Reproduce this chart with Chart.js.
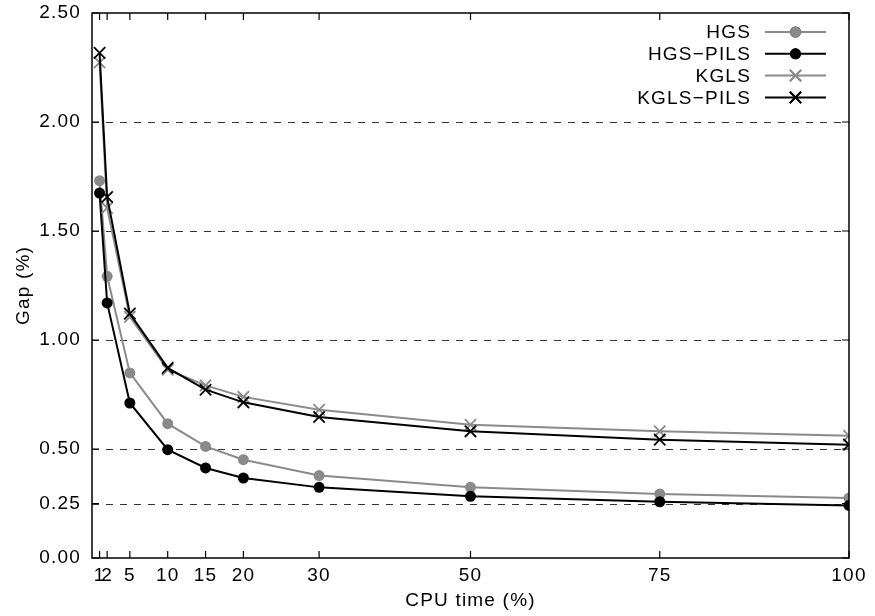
<!DOCTYPE html>
<html>
<head>
<meta charset="utf-8">
<title>Gap vs CPU time</title>
<script src="https://cdn.jsdelivr.net/npm/chart.js@4"></script>
<style>
  html, body { margin: 0; padding: 0; background: #fff; }
  #wrap { width: 875px; height: 616px; }
</style>
</head>
<body>
<div id="wrap"><canvas id="gapChart" width="875" height="616"></canvas></div>
<script>
// CPU time (%) at which each gap was measured
const cpuTime = [1, 2, 5, 10, 15, 20, 30, 50, 75, 100];
const yTickValues = [0, 0.25, 0.5, 1, 1.5, 2, 2.5];

// Gap (%) per method
const hgs      = [1.731, 1.292, 0.849, 0.616, 0.512, 0.451, 0.378, 0.324, 0.294, 0.275];
const hgsPils  = [1.674, 1.170, 0.711, 0.497, 0.413, 0.367, 0.324, 0.283, 0.258, 0.241];
const kgls     = [2.273, 1.606, 1.106, 0.864, 0.792, 0.739, 0.680, 0.611, 0.581, 0.561];
const kglsPils = [2.317, 1.656, 1.121, 0.872, 0.772, 0.714, 0.647, 0.581, 0.543, 0.520];

const labels = ['HGS', 'HGS\u2212PILS', 'KGLS', 'KGLS\u2212PILS'];
const GREY = '#8a8a8a';
const FONT = "'Liberation Sans', Arial, Helvetica, sans-serif";

Chart.defaults.font.family = FONT;
Chart.defaults.font.size = 19;
Chart.defaults.color = '#000';

function points(values) {
    return values.map((v, i) => ({ x: cpuTime[i], y: v }));
}

function series(label, values, color, style, order) {
    const cross = style === 'crossRot';
    return {
        label: label,
        data: points(values),
        borderColor: color,
        backgroundColor: color,
        borderWidth: 2,
        pointStyle: style,
        pointRadius: cross ? 8 : 5.5,
        pointBorderWidth: cross ? 1.8 : 0,
        pointBackgroundColor: color,
        pointBorderColor: color,
        tension: 0,
        order: order
    };
}

// letter spacing to get closer to the wide original lettering
function spacing(chart) {
    chart.ctx.letterSpacing = '1.2px';
}

// fixed plot box, no label overhang padding
function fixBox(size) {
    return scale => {
        if (scale.isHorizontal()) scale.height = size;
        else scale.width = size;
        scale.paddingTop = 0;
        scale.paddingBottom = 0;
        scale.paddingLeft = 0;
        scale.paddingRight = 0;
    };
}

const framePlugin = {
    id: 'frame',
    beforeLayout: spacing,
    beforeDraw: spacing,
    beforeDatasetsDraw(chart) {
        const { ctx, chartArea: a, scales: { y } } = chart;
        ctx.save();
        ctx.strokeStyle = '#333';
        ctx.lineWidth = 1;
        ctx.setLineDash([7, 7]);
        yTickValues.forEach(v => {
            if (v === 0 || v === 2.5) return;
            const py = Math.round(y.getPixelForValue(v)) + 0.5;
            ctx.beginPath();
            ctx.moveTo(a.left, py);
            ctx.lineTo(a.right, py);
            ctx.stroke();
        });
        ctx.restore();
    },
    afterDatasetsDraw(chart) {
        const { ctx, chartArea: a, scales: { x, y } } = chart;
        ctx.save();
        ctx.strokeStyle = '#000';
        ctx.lineWidth = 1.5;
        ctx.setLineDash([]);
        ctx.strokeRect(a.left, a.top, a.right - a.left, a.bottom - a.top);

        // inward tick marks, mirrored on top and right
        ctx.beginPath();
        cpuTime.forEach(v => {
            const px = x.getPixelForValue(v);
            ctx.moveTo(px, a.bottom);
            ctx.lineTo(px, a.bottom - 7);
            ctx.moveTo(px, a.top);
            ctx.lineTo(px, a.top + 7);
        });
        yTickValues.forEach(v => {
            const py = y.getPixelForValue(v);
            ctx.moveTo(a.left, py);
            ctx.lineTo(a.left + 7, py);
            ctx.moveTo(a.right, py);
            ctx.lineTo(a.right - 7, py);
        });
        ctx.lineWidth = 1.2;
        ctx.stroke();

        // legend, gnuplot style: text right aligned, sample line after it
        const textRight = 751, lineLeft = 765, lineRight = 826, rowTop = 32, rowStep = 21.8;
        chart.data.datasets.forEach((ds, i) => {
            const cy = rowTop + i * rowStep;
            ctx.font = '19px ' + FONT;
            ctx.fillStyle = '#000';
            ctx.textAlign = 'right';
            ctx.textBaseline = 'middle';
            ctx.fillText(ds.label, textRight, cy + 1);
            ctx.strokeStyle = ds.borderColor;
            ctx.lineWidth = 2;
            ctx.beginPath();
            ctx.moveTo(lineLeft, cy);
            ctx.lineTo(lineRight, cy);
            ctx.stroke();
            ctx.lineWidth = ds.pointBorderWidth;
            Chart.helpers.drawPoint(ctx, {
                pointStyle: ds.pointStyle,
                radius: ds.pointRadius,
                borderWidth: ds.pointBorderWidth,
                rotation: 0
            }, (lineLeft + lineRight) / 2, cy);
            ctx.fillStyle = ds.borderColor;
            if (ds.pointStyle === 'circle') ctx.fill();
            else ctx.stroke();
        });
        ctx.restore();
    }
};

const ctx = document.getElementById('gapChart').getContext('2d');
const chart = new Chart(ctx, {
    type: 'line',
    data: {
        datasets: [
            series(labels[0], hgs, GREY, 'circle', 3),
            series(labels[1], hgsPils, '#000', 'circle', 2),
            series(labels[2], kgls, GREY, 'crossRot', 1),
            series(labels[3], kglsPils, '#000', 'crossRot', 0)
        ]
    },
    options: {
        responsive: false,
        animation: false,
        events: [],
        layout: { padding: { top: 13, right: 26, left: 0, bottom: 0 } },
        plugins: {
            legend: { display: false },
            tooltip: { enabled: false }
        },
        scales: {
            x: {
                type: 'linear',
                min: 0,
                max: 100,
                grid: { display: false, drawTicks: false },
                border: { display: false },
                afterBuildTicks: scale => { scale.ticks = cpuTime.map(v => ({ value: v })); },
                afterFit: fixBox(58),
                ticks: {
                    autoSkip: false,
                    maxRotation: 0,
                    minRotation: 0,
                    padding: 6,
                    callback: v => String(v)
                },
                title: {
                    display: true,
                    text: 'CPU time (%)',
                    padding: { top: 0, bottom: 4 }
                }
            },
            y: {
                type: 'linear',
                min: 0,
                max: 2.5,
                grid: { display: false, drawTicks: false },
                border: { display: false },
                afterBuildTicks: scale => { scale.ticks = yTickValues.map(v => ({ value: v })); },
                afterFit: fixBox(92),
                ticks: {
                    autoSkip: false,
                    padding: 11,
                    callback: v => v.toFixed(2)
                },
                title: {
                    display: true,
                    text: 'Gap (%)',
                    padding: { top: 12, bottom: 0 }
                }
            }
        }
    },
    plugins: [framePlugin]
});
</script>
</body>
</html>
